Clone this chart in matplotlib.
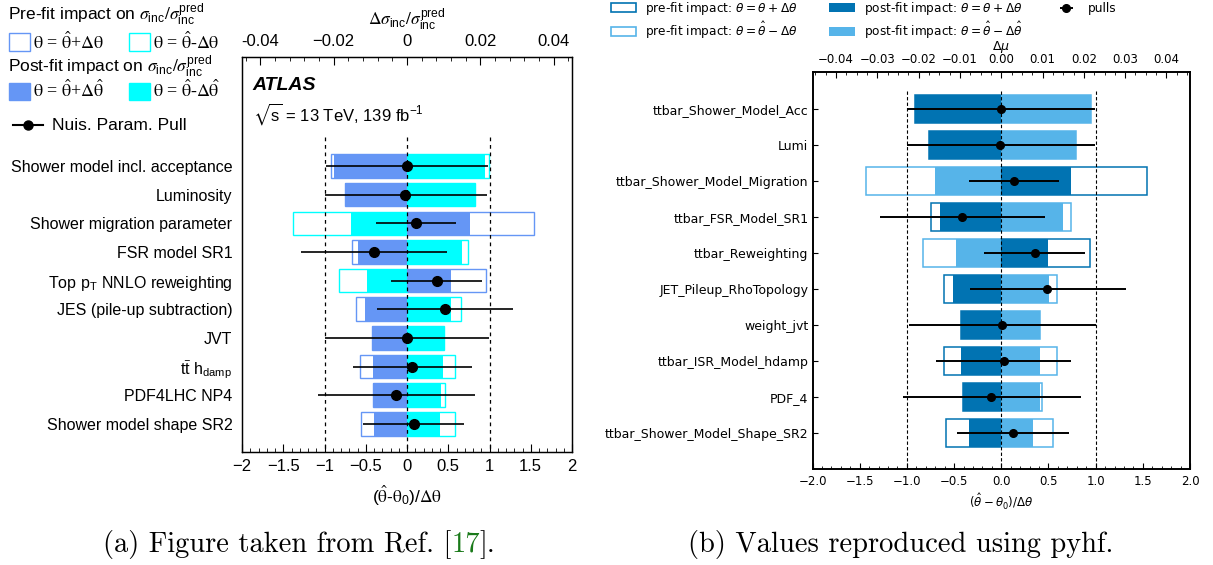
import numpy as np
import matplotlib
matplotlib.use("Agg")
import matplotlib.pyplot as plt
from matplotlib.patches import Rectangle, Patch
from matplotlib.lines import Line2D
from matplotlib.ticker import MultipleLocator, FuncFormatter

W, H = 1213, 565
plt.rcParams["mathtext.fontset"] = "stix"

# ---------------- (a) ATLAS impact ranking ----------------
atlas_params = [
    "Shower model incl. acceptance",
    "Luminosity",
    "Shower migration parameter",
    "FSR model SR1",
    r"Top p$_{\mathregular{T}}$ NNLO reweighting",
    "JES (pile-up subtraction)",
    "JVT",
    r"t$\bar{\mathregular{t}}$ h$_{\mathregular{damp}}$",
    "PDF4LHC NP4",
    "Shower model shape SR2",
]
atlas_pre_up = [-0.0207, -0.0169, 0.0345, -0.0150, 0.0215, -0.0139, -0.0095, -0.0127, -0.0093, -0.0126]
atlas_pre_down = [0.0223, 0.0185, -0.0311, 0.0166, -0.0186, 0.0146, 0.0100, 0.0132, 0.0104, 0.0132]
atlas_post_up = [-0.0199, -0.0169, 0.0171, -0.0134, 0.0120, -0.0114, -0.0095, -0.0093, -0.0093, -0.0089]
atlas_post_down = [0.0212, 0.0185, -0.0153, 0.0149, -0.0110, 0.0120, 0.0100, 0.0099, 0.0093, 0.0089]
atlas_pull = [0.00, -0.02, 0.11, -0.40, 0.36, 0.46, 0.00, 0.06, -0.13, 0.08]
atlas_pull_lo = [-0.98, -0.99, -0.37, -1.28, -0.19, -0.36, -0.99, -0.66, -1.08, -0.53]
atlas_pull_hi = [0.98, 0.97, 0.59, 0.49, 0.91, 1.29, 0.99, 0.79, 0.82, 0.69]
atlas_top_ticks = [-0.04, -0.02, 0.0, 0.02, 0.04]
atlas_top_ticklabels = ["-0.04", "\u22120.02", "0", "0.02", "0.04"]

# ---------------- (b) pyhf impact ranking ----------------
pyhf_params = [
    "ttbar_Shower_Model_Acc",
    "Lumi",
    "ttbar_Shower_Model_Migration",
    "ttbar_FSR_Model_SR1",
    "ttbar_Reweighting",
    "JET_Pileup_RhoTopology",
    "weight_jvt",
    "ttbar_ISR_Model_hdamp",
    "PDF_4",
    "ttbar_Shower_Model_Shape_SR2",
]
pyhf_pre_up = [-0.0210, -0.0176, 0.0353, -0.0169, 0.0215, -0.0139, -0.0097, -0.0139, -0.0093, -0.0133]
pyhf_pre_down = [0.0217, 0.0181, -0.0327, 0.0170, -0.0190, 0.0136, 0.0095, 0.0135, 0.0099, 0.0126]
pyhf_post_up = [-0.0210, -0.0176, 0.0168, -0.0149, 0.0112, -0.0118, -0.0097, -0.0098, -0.0093, -0.0079]
pyhf_post_down = [0.0217, 0.0181, -0.0161, 0.0149, -0.0110, 0.0115, 0.0095, 0.0095, 0.0093, 0.0076]
pyhf_pull = [0.00, -0.01, 0.13, -0.415, 0.355, 0.485, 0.01, 0.025, -0.105, 0.125]
pyhf_pull_lo = [-1.00, -1.00, -0.345, -1.29, -0.18, -0.335, -0.98, -0.69, -1.045, -0.47]
pyhf_pull_hi = [0.995, 0.99, 0.61, 0.46, 0.89, 1.32, 1.00, 0.735, 0.84, 0.715]

fig = plt.figure(figsize=(W / 100, H / 100), dpi=100)


def fx(px):
    return px / W


def fy(py):
    return 1 - py / H


SANS = "Liberation Sans"
blue_a = "#6596f5"
cyan_a = "#00ffff"
dark_b = "#0173b2"
light_b = "#56b4e9"
SIGMA_RATIO = r"$\sigma_{\mathregular{inc}}/\sigma^{\mathregular{pred}}_{\mathregular{inc}}$"

# ===================== panel (a) =====================
y_a = np.arange(len(atlas_params))
axA = fig.add_axes([fx(242), fy(452), fx(572) - fx(242), fy(57) - fy(452)])
axA_top = axA.twiny()

bar_h = 0.82
axA_top.barh(y_a, atlas_pre_up, height=bar_h, fill=False, edgecolor=blue_a, lw=1.0, zorder=1)
axA_top.barh(y_a, atlas_pre_down, height=bar_h, fill=False, edgecolor=cyan_a, lw=1.0, zorder=1)
axA_top.barh(y_a, atlas_post_up, height=bar_h, color=blue_a, lw=0, zorder=2)
axA_top.barh(y_a, atlas_post_down, height=bar_h, color=cyan_a, lw=0, zorder=2)
axA_top.set_xlim(-0.045, 0.045)

axA.set_zorder(axA_top.get_zorder() + 1)
axA.patch.set_visible(False)
axA.vlines([-1, 0, 1], -1, 10, colors="black", linestyles=(0, (3, 3)), lw=0.9)
pa = np.array(atlas_pull)
axA.errorbar(pa, y_a, xerr=[pa - np.array(atlas_pull_lo), np.array(atlas_pull_hi) - pa],
             fmt="o", color="black", ms=7, elinewidth=1.2, capsize=0)
axA.set_xlim(-2, 2)
axA.set_ylim(9.98, -3.8)

axA.xaxis.set_major_locator(MultipleLocator(0.5))
axA.xaxis.set_minor_locator(MultipleLocator(0.1))
axA.xaxis.set_major_formatter(FuncFormatter(lambda v, _: f"{v:g}".replace("-", "\u2212")))
axA.tick_params(axis="x", which="both", direction="in", top=False, labelsize=12,
                labelfontfamily=SANS, pad=5)
axA.tick_params(axis="x", which="major", length=6)
axA.tick_params(axis="x", which="minor", length=3)
axA.set_yticks(y_a)
axA.set_yticklabels(atlas_params, fontfamily=SANS, fontsize=11.5)
axA.tick_params(axis="y", length=0, pad=7)

axA_top.set_xticks(atlas_top_ticks)
axA_top.set_xticklabels(atlas_top_ticklabels)
axA_top.xaxis.set_minor_locator(MultipleLocator(0.004))
axA_top.tick_params(axis="x", which="both", direction="in", labelsize=12,
                    labelfontfamily=SANS, pad=6)
axA_top.tick_params(axis="x", which="major", length=6)
axA_top.tick_params(axis="x", which="minor", length=3)
for ax in (axA, axA_top):
    for s in ax.spines.values():
        s.set_linewidth(0.9)

axA.set_xlabel(r"($\hat{\mathrm{\theta}}$-$\mathrm{\theta}_{\mathregular{0}}$)/$\Delta\mathrm{\theta}$",
               fontfamily=SANS, fontsize=12.5, labelpad=7)
axA_top.set_xlabel(r"$\Delta$" + SIGMA_RATIO, fontfamily=SANS, fontsize=12.5, labelpad=6)

axA.text(0.033, 0.9266, "ATLAS", transform=axA.transAxes, fontfamily=SANS,
         fontweight="bold", fontstyle="italic", fontsize=14, va="center")
axA.text(0.033, 0.8557, r"$\sqrt{\mathregular{s}}$ = 13 TeV, 139 fb$^{\mathregular{-1}}$",
         transform=axA.transAxes, fontfamily=SANS, fontsize=12, va="center")

# legend block of panel (a)
fig.text(fx(8), fy(21), "Pre-fit impact on " + SIGMA_RATIO,
         fontfamily=SANS, fontsize=12.5, va="baseline")
fig.text(fx(8), fy(73), "Post-fit impact on " + SIGMA_RATIO,
         fontfamily=SANS, fontsize=12.5, va="baseline")
legend_a = [
    (9, 33, 51, "white", blue_a, r"$\mathrm{\theta}$ = $\hat{\mathrm{\theta}}$+$\Delta\mathrm{\theta}$", 49),
    (129, 33, 51, "white", cyan_a, r"$\mathrm{\theta}$ = $\hat{\mathrm{\theta}}$-$\Delta\mathrm{\theta}$", 49),
    (9, 83, 100, blue_a, blue_a, r"$\mathrm{\theta}$ = $\hat{\mathrm{\theta}}$+$\Delta\hat{\mathrm{\theta}}$", 97),
    (129, 83, 100, cyan_a, cyan_a, r"$\mathrm{\theta}$ = $\hat{\mathrm{\theta}}$-$\Delta\hat{\mathrm{\theta}}$", 97),
]
for x0, y0, y1, fc, ec, lab, base in legend_a:
    fig.add_artist(Rectangle((fx(x0), fy(y1)), fx(x0 + 21) - fx(x0), fy(y0) - fy(y1),
                             transform=fig.transFigure, facecolor=fc, edgecolor=ec, lw=1.0))
    fig.text(fx(x0 + 24), fy(base), lab, fontfamily="Liberation Serif", fontsize=13, va="baseline")
fig.add_artist(Line2D([fx(13), fx(43)], [fy(125), fy(125)], transform=fig.transFigure,
                      color="black", lw=1.5))
fig.add_artist(Line2D([fx(28)], [fy(125)], transform=fig.transFigure, color="black",
                      marker="o", ms=6.5))
fig.text(fx(52), fy(130), "Nuis. Param. Pull", fontfamily=SANS, fontsize=12.5, va="baseline")

# ===================== panel (b) =====================
y_b = np.arange(len(pyhf_params))
axB = fig.add_axes([fx(812.5), fy(469), fx(1190) - fx(812.5), fy(72) - fy(469)])
axB_top = axB.twiny()

axB_top.barh(y_b, pyhf_pre_up, height=0.8, fill=False, edgecolor=dark_b, lw=1.1, zorder=1)
axB_top.barh(y_b, pyhf_pre_down, height=0.8, fill=False, edgecolor=light_b, lw=1.1, zorder=1)
axB_top.barh(y_b, pyhf_post_up, height=0.8, color=dark_b, lw=0, zorder=2)
axB_top.barh(y_b, pyhf_post_down, height=0.8, color=light_b, lw=0, zorder=2)
axB_top.set_xlim(-0.0457, 0.0457)

axB.set_zorder(axB_top.get_zorder() + 1)
axB.patch.set_visible(False)
axB.vlines([-1, 0, 1], -0.5, 10, colors="black", linestyles=(0, (3, 2)), lw=0.8)
pb = np.array(pyhf_pull)
pulls = axB.errorbar(pb, y_b, xerr=[pb - np.array(pyhf_pull_lo), np.array(pyhf_pull_hi) - pb],
                     fmt="o", color="black", ms=5.5, elinewidth=1.4, capsize=0)
axB.set_xlim(-2, 2)
axB.set_ylim(10, -1.03)

axB.xaxis.set_major_locator(MultipleLocator(0.5))
axB.xaxis.set_minor_locator(MultipleLocator(0.1))
axB.tick_params(axis="x", which="both", direction="in", top=False, labelsize=8.5, pad=4)
axB.tick_params(axis="x", which="major", length=4)
axB.tick_params(axis="x", which="minor", length=2)
axB.set_yticks(y_b)
axB.set_yticklabels(pyhf_params, fontsize=9)
axB.tick_params(axis="y", direction="in", length=3.5, pad=3)

axB_top.xaxis.set_major_locator(MultipleLocator(0.01))
axB_top.xaxis.set_minor_locator(MultipleLocator(0.0025))
axB_top.tick_params(axis="x", which="both", direction="in", labelsize=8.5, pad=4.5)
axB_top.tick_params(axis="x", which="major", length=4)
axB_top.tick_params(axis="x", which="minor", length=2)
for ax in (axB, axB_top):
    for s in ax.spines.values():
        s.set_linewidth(1.2)

axB.set_xlabel(r"$(\hat{\theta} - \theta_0)/\Delta\theta$", fontsize=8.5, labelpad=3)
axB.xaxis.label.set_math_fontfamily("dejavusans")
axB_top.set_xlabel(r"$\Delta\mu$", fontsize=9, labelpad=2)
axB_top.xaxis.label.set_math_fontfamily("dejavusans")

handles = [
    Patch(facecolor="white", edgecolor=dark_b, lw=1.2),
    Patch(facecolor="white", edgecolor=light_b, lw=1.2),
    Patch(facecolor=dark_b, edgecolor=dark_b, lw=0),
    Patch(facecolor=light_b, edgecolor=light_b, lw=0),
    pulls,
]
labels = [
    r"pre-fit impact: $\theta = \theta + \Delta\theta$",
    r"pre-fit impact: $\theta = \hat{\theta} - \Delta\theta$",
    r"post-fit impact: $\theta = \theta + \Delta\theta$",
    r"post-fit impact: $\theta = \hat{\theta} - \Delta\hat{\theta}$",
    "pulls",
]
leg = fig.legend(handles, labels, ncol=3, loc="upper left", bbox_to_anchor=(fx(611), fy(0)),
                 frameon=False, fontsize=8.7, handlelength=2.1, handleheight=0.8,
                 handletextpad=0.75, columnspacing=2.6, labelspacing=0.25,
                 borderpad=0, borderaxespad=0)
for t in leg.get_texts():
    t.set_math_fontfamily("dejavusans")

# ===================== captions =====================
renderer = fig.canvas.get_renderer()


def caption(x_px, base_px, parts):
    x = x_px
    for s, c in parts:
        t = fig.text(fx(x), fy(base_px), s, family="cmr10", fontsize=20.5, color=c,
                     va="baseline", ha="left")
        x = t.get_window_extent(renderer=renderer).x1


caption(103, 552, [("(a) Figure taken from Ref. [", "black"), ("17", "#1a7a1a"), (("].", "black"))])
caption(688, 552, [("(b) Values reproduced using pyhf.", "black")])

fig.savefig("out.png", dpi=100)
